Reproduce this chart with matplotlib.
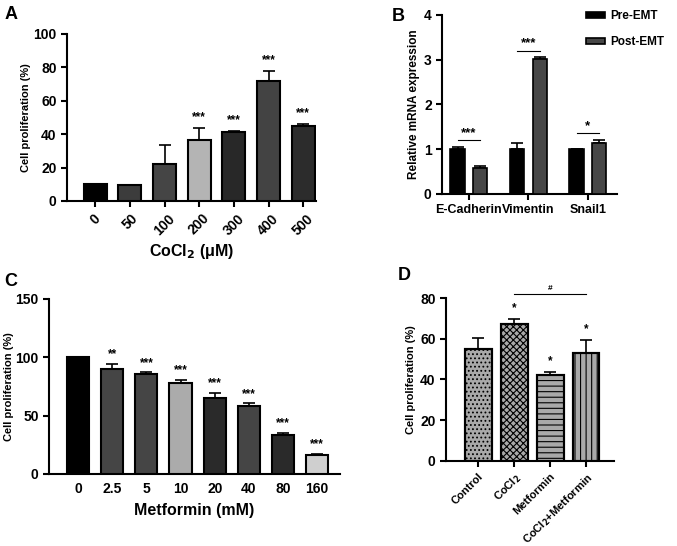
import matplotlib.pyplot as plt
import numpy as np

plt.rcParams['font.family'] = ['Liberation Sans', 'DejaVu Sans']
plt.rcParams['font.weight'] = 'bold'
plt.rcParams['axes.labelweight'] = 'bold'
plt.rcParams['hatch.linewidth'] = 0.8

# ---- data ----
a_labels = ['0', '50', '100', '200', '300', '400', '500']
a_vals = [10, 9.5, 22, 36.5, 41.5, 71.5, 45]
a_err = [0.2, 0.3, 11.5, 7, 0.5, 6, 1]
a_stars = ['', '', '', '***', '***', '***', '***']
a_colors = ['#000000', '#3c3c3c', '#454545', '#b4b4b4', '#282828', '#434343', '#2c2c2c']

b_genes = ['E-Cadherin', 'Vimentin', 'Snail1']
b_pre = [1.0, 1.0, 1.0]
b_pre_err = [0.04, 0.13, 0.01]
b_post = [0.58, 3.02, 1.13]
b_post_err = [0.05, 0.03, 0.08]
b_sig = ['***', '***', '*']
b_sig_y = [1.2, 3.2, 1.35]

c_labels = ['0', '2.5', '5', '10', '20', '40', '80', '160']
c_vals = [100, 90, 86, 78, 65.5, 58, 33, 16.5]
c_err = [0.2, 4.5, 1, 2.5, 4, 2.5, 2.5, 1]
c_stars = ['', '**', '***', '***', '***', '***', '***', '***']
c_colors = ['#000000', '#454545', '#454545', '#ababab', '#2a2a2a', '#454545', '#2a2a2a', '#cfcfcf']

d_labels = ['Control', 'CoCl$_2$', 'Metformin', 'CoCl$_2$+Metformin']
d_vals = [55, 67, 42.3, 53]
d_err = [5.5, 2.5, 1.5, 6.3]
d_stars = ['', '*', '*', '*']
d_hatch = ['....', 'xxxxx', '---', '|||']


def style(ax, size=10):
    for s in ['top', 'right']:
        ax.spines[s].set_visible(False)
    for s in ['left', 'bottom']:
        ax.spines[s].set_linewidth(1.5)
    ax.tick_params(width=1.5, length=4, labelsize=size)
    for t in ax.get_xticklabels() + ax.get_yticklabels():
        t.set_fontweight('bold')


def up_err(ax, x, v, e):
    ax.errorbar(x, v, yerr=[np.zeros(len(v)), e], fmt='none', ecolor='black',
                elinewidth=1.2, capsize=4, capthick=1.2)


fig = plt.figure(figsize=(6.77, 5.46), dpi=100)

# ---- A ----
ax = fig.add_axes([0.099, 0.632, 0.368, 0.306])
x = np.arange(len(a_vals))
up_err(ax, x, a_vals, a_err)
ax.bar(x, a_vals, width=0.66, color=a_colors, edgecolor='black', linewidth=1.5, zorder=3)
for i in range(len(x)):
    if a_stars[i]:
        ax.text(x[i], a_vals[i] + a_err[i] + 3, a_stars[i], ha='center', va='bottom', fontsize=8.5)
ax.set_xlim(-0.81, 6.37)
ax.set_ylim(0, 100)
ax.set_yticks([0, 20, 40, 60, 80, 100])
ax.set_xticks(x)
ax.set_xticklabels(a_labels, rotation=45, ha='center', va='top')
style(ax)
ax.set_ylabel('Cell proliferation (%)', fontsize=8, labelpad=2)
ax.set_xlabel('CoCl$_2$ (μM)', fontsize=11.5, labelpad=3)
fig.text(0.006, 0.965, 'A', fontsize=13, fontweight='bold')

# ---- B ----
ax = fig.add_axes([0.653, 0.645, 0.2585, 0.328])
x = np.arange(len(b_genes))
w = 0.24
up_err(ax, x - 0.19, b_pre, b_pre_err)
up_err(ax, x + 0.19, b_post, b_post_err)
ax.bar(x - 0.19, b_pre, width=w, color='black', edgecolor='black', linewidth=1.2, zorder=3, label='Pre-EMT')
ax.bar(x + 0.19, b_post, width=w, color='#474747', edgecolor='black', linewidth=1.2, zorder=3, label='Post-EMT')
for i in range(len(x)):
    ax.plot([x[i] - 0.19, x[i] + 0.19], [b_sig_y[i], b_sig_y[i]], color='black', lw=0.8)
    ax.text(x[i], b_sig_y[i] + 0.03, b_sig[i], ha='center', va='bottom', fontsize=9.5)
ax.set_xlim(-0.45, 2.49)
ax.set_ylim(0, 4)
ax.set_yticks([0, 1, 2, 3, 4])
ax.set_xticks(x)
ax.set_xticklabels(b_genes)
style(ax)
ax.tick_params(axis='x', labelsize=9)
ax.set_ylabel('Relative mRNA expression', fontsize=8.5, labelpad=3)
leg = ax.legend(loc='upper left', bbox_to_anchor=(0.76, 1.085), frameon=False, fontsize=8.5,
                handlelength=1.6, handleheight=0.5, labelspacing=1.2, handletextpad=0.5)
for t in leg.get_texts():
    t.set_fontweight('bold')
fig.text(0.578, 0.962, 'B', fontsize=13, fontweight='bold')

# ---- C ----
ax = fig.add_axes([0.0724, 0.1319, 0.430, 0.3205])
x = np.arange(len(c_vals))
up_err(ax, x, c_vals, c_err)
ax.bar(x, c_vals, width=0.65, color=c_colors, edgecolor='black', linewidth=1.5, zorder=3)
for i in range(len(x)):
    if c_stars[i]:
        ax.text(x[i], c_vals[i] + c_err[i] + 3, c_stars[i], ha='center', va='bottom', fontsize=8.5)
ax.set_xlim(-0.85, 7.67)
ax.set_ylim(0, 150)
ax.set_yticks([0, 50, 100, 150])
ax.set_xticks(x)
ax.set_xticklabels(c_labels)
style(ax)
ax.tick_params(axis='x', length=0, pad=6)
ax.set_ylabel('Cell proliferation (%)', fontsize=8, labelpad=1)
ax.set_xlabel('Metformin (mM)', fontsize=11.5, labelpad=5)
fig.text(0.006, 0.477, 'C', fontsize=13, fontweight='bold')

# ---- D ----
ax = fig.add_axes([0.659, 0.1557, 0.248, 0.2985])
x = np.arange(len(d_vals))
up_err(ax, x, d_vals, d_err)
for i in range(len(x)):
    ax.bar(x[i], d_vals[i], width=0.75, color='#a9a9a9', edgecolor='black', linewidth=1.5,
           hatch=d_hatch[i], zorder=3)
    ax.bar(x[i], d_vals[i], width=0.75, color='none', edgecolor='black', linewidth=1.5, zorder=4)
    if d_stars[i]:
        ax.text(x[i], d_vals[i] + d_err[i] + 2.5, d_stars[i], ha='center', va='bottom', fontsize=8.5)
ax.plot([1, 3], [82, 82], color='black', lw=0.8, clip_on=False)
ax.text(2, 83, '#', ha='center', va='bottom', fontsize=6)
ax.set_xlim(-0.89, 3.78)
ax.set_ylim(0, 80)
ax.set_yticks([0, 20, 40, 60, 80])
ax.set_xticks(x)
ax.set_xticklabels(d_labels, rotation=45, ha='right', rotation_mode='anchor')
style(ax)
ax.tick_params(axis='x', labelsize=8)
ax.set_ylabel('Cell proliferation (%)', fontsize=8, labelpad=3)
fig.text(0.588, 0.488, 'D', fontsize=13, fontweight='bold')

fig.savefig('out.png', dpi=100)
